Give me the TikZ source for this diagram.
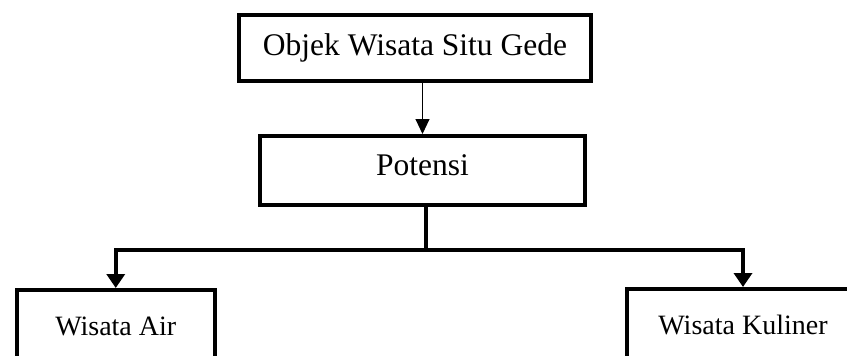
\documentclass[tikz,border=0pt]{standalone}
\usepackage{fontspec}
\setmainfont{Liberation Serif}
\usetikzlibrary{arrows.meta}

\tikzset{
  box/.style={draw=black, line width=4pt, fill=white, inner sep=0pt, align=center},
  bigtext/.style={font=\fontsize{31.5}{36}\selectfont},
  smalltext/.style={font=\fontsize{28}{32}\selectfont},
  thinarrow/.style={line width=1pt, -{Triangle[width=14pt,length=15pt]}},
  branch/.style={line width=4pt, {Triangle[width=18pt,length=14pt]}-{Triangle[width=18pt,length=14pt]}},
  stem/.style={line width=4pt}
}

\begin{document}
\begin{tikzpicture}[x=1pt, y=-1pt]
  \useasboundingbox (0,0) rectangle (847,356);
  \clip (0,0) rectangle (847,356);

  % boxes
  \node[box, bigtext, minimum width=352pt, minimum height=66pt,
        text height=21pt, text depth=7pt] (situ) at (415,48) {Objek Wisata Situ Gede};
  \node[box, bigtext, minimum width=325pt, minimum height=69pt,
        text height=15pt, text depth=6pt] (potensi) at (422.5,170.5) {Potensi};
  \node[box, smalltext, minimum width=198.5pt, minimum height=71pt,
        text height=19pt, text depth=0pt] (air) at (115.75,325.5) {Wisata Air};
  \node[box, smalltext, minimum width=232pt, minimum height=72pt,
        text height=19pt, text depth=0pt] (kuliner) at (743,325) {Wisata Kuliner};

  % connectors
  \coordinate (bus) at (426,250);
  \draw[thinarrow] (potensi.north |- situ.south) -- (potensi.north);
  \draw[stem] (potensi.south -| bus) -- (bus);
  \draw[branch] (air.north) -- (air.north |- bus) -- (kuliner.north |- bus) -- (kuliner.north);
\end{tikzpicture}
\end{document}
